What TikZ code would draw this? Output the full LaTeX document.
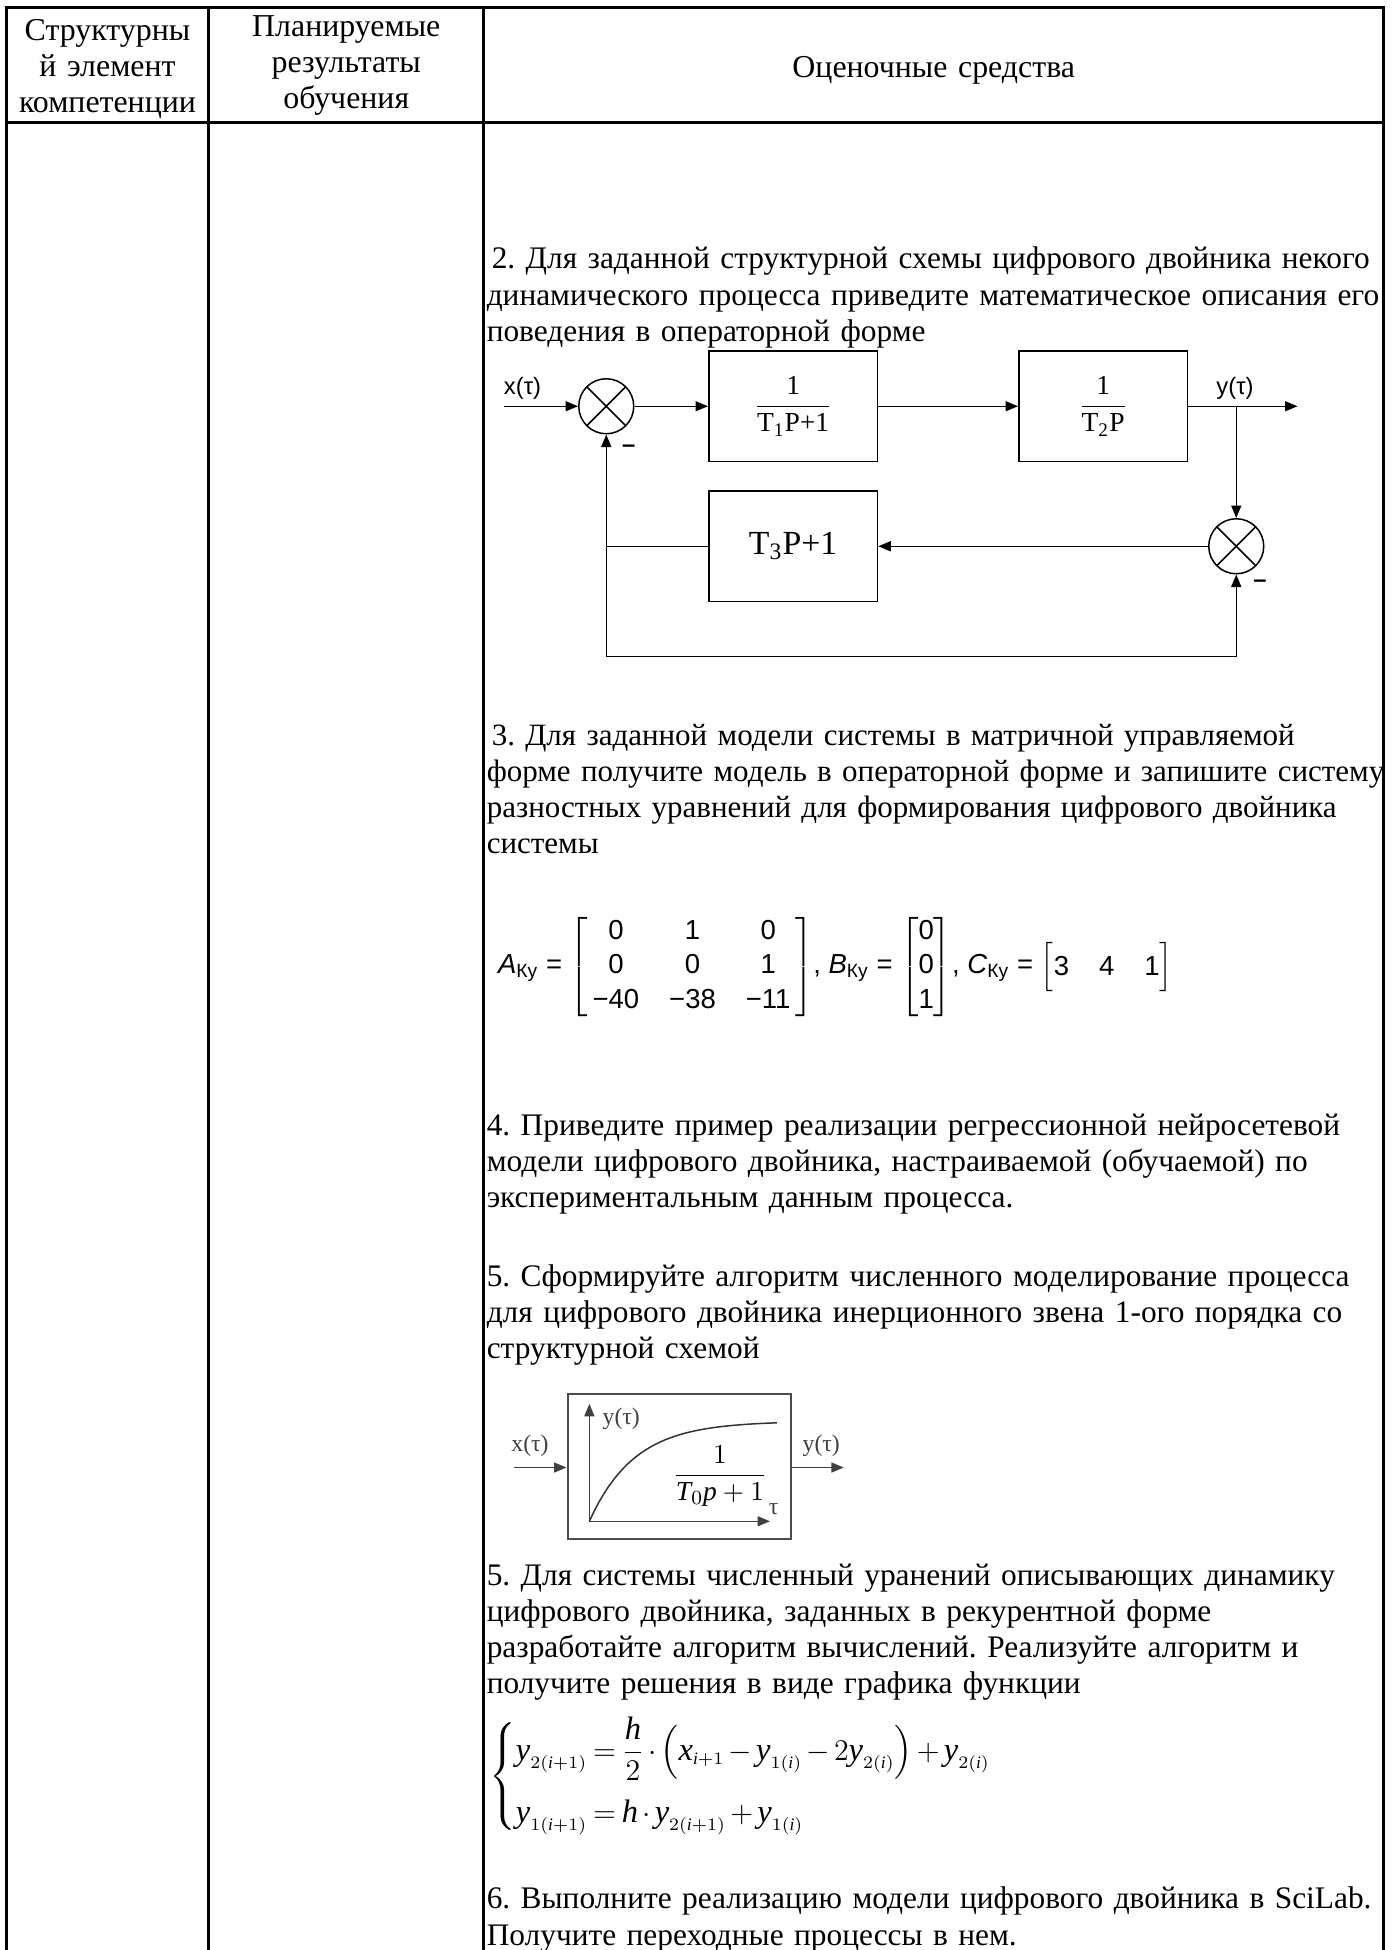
\documentclass[tikz,border=0pt]{standalone}
\usepackage{amsmath}
\usepackage{fontspec}
\setmainfont{Liberation Serif}
\setsansfont{Liberation Sans}
\usetikzlibrary{arrows.meta}
\DeclareMathSizes{13}{13}{7}{5.5}
\frenchspacing

\begin{document}
\begin{tikzpicture}[x=0.5pt,y=-0.5pt,
        tabline/.style={line width=1.2pt},
        hdr/.style={anchor=base,inner sep=0pt,text width=100pt,align=center,font=\fontsize{12.75}{14.5}\selectfont},
        txt/.style={anchor=base west,inner sep=0pt,text width=450pt,align=left,font=\fontsize{12.55}{14.5}\selectfont},
        blk/.style={draw,line width=0.6pt,minimum width=67.5pt,minimum height=44.25pt,inner sep=0pt},
        sum/.style={circle,draw,line width=0.6pt,minimum size=22pt,inner sep=0pt,
            path picture={\draw[line width=0.6pt] (path picture bounding box.north west) -- (path picture bounding box.south east)
                (path picture bounding box.south west) -- (path picture bounding box.north east);}},
        sig/.style={-{Triangle[length=5pt,width=4pt]},line width=0.6pt},
        lbl/.style={inner sep=0pt,font=\sffamily\fontsize{9.5}{11}\selectfont},
        sml/.style={inner sep=0pt,text=black!75,font=\fontsize{9.5}{11}\selectfont}]

    \useasboundingbox (0,0) rectangle (1113,1560);

    % table
    \draw[tabline] (5,1560) -- (5,6) -- (1106.5,6) -- (1106.5,1560);
    \draw[tabline] (5,98) -- (1106.5,98);
    \draw[tabline] (167,6) -- (167,1560);
    \draw[tabline] (387,6) -- (387,1560);

    \node[hdr] (h1) at (86,32) {Структурны\\й элемент\\компетенции};
    \node[hdr] (h2) at (277,29) {Планируемые\\результаты\\обучения};
    \node[hdr,text width=200pt] (h3) at (747,62) {Оценочные средства};

    % task 2
    \node[txt] (q2) at (389,215) {\hspace*{2pt}2. Для заданной структурной схемы цифрового двойника некого\\
        динамического процесса приведите математическое описания его\\
        поведения в операторной форме};

    \node[sum] (s1) at (485,325) {};
    \node[blk] (b1) at (634.5,325) {\fontsize{11}{13}\selectfont$\dfrac{\text{1}}{\text{T}_{\text{1}}\text{P+1}}$};
    \node[blk] (b2) at (882.5,325) {\fontsize{11}{13}\selectfont$\dfrac{\text{1}}{\text{T}_{\text{2}}\text{P}}$};
    \node[blk] (b3) at (634.5,437) {\fontsize{13.5}{15}\selectfont T$_{\text{3}}$P+1};
    \node[sum] (s2) at (989,437) {};

    \coordinate (in1) at (403,325);
    \coordinate (out1) at (1038,325);
    \coordinate (br) at (989,325);
    \coordinate (lc) at (485,437);
    \coordinate (bl) at (485,525);
    \coordinate (bb) at (989,525);

    \node[lbl] (xl) at (418,311) {x(τ)};
    \node[lbl] (yl) at (988,311) {y(τ)};
    \node[lbl] (m1) at (503,359) {\textbf{–}};
    \node[lbl] (m2) at (1008,467) {\textbf{–}};

    \draw[sig] (in1) -- (s1);
    \draw[sig] (s1) -- (b1);
    \draw[sig] (b1) -- (b2);
    \draw[sig] (b2) -- (out1);
    \draw[sig] (br) -- (s2);
    \draw[sig] (s2) -- (b3);
    \draw[line width=0.6pt] (b3) -- (lc);
    \draw[sig] (bl) -- (s1);
    \draw[sig] (bl) -- (bb) -- (s2);

    % task 3
    \node[txt,font=\fontsize{12.4}{14.5}\selectfont] (q3) at (389,596) {\hspace*{2pt}3. Для заданной модели системы в матричной управляемой\\
        форме получите модель в операторной форме и запишите систему\\
        разностных уравнений для формирования цифрового двойника\\
        системы};

    \node[anchor=base west,inner sep=0pt,font=\sffamily\fontsize{11}{13.75}\selectfont] (mx) at (398,779)
        {\textit{A}\textsubscript{Ку} = $\left[\begin{tabular}{@{\,}ccc@{\,}}0&1&0\\0&0&1\\−40&−38&−11\end{tabular}\right]$,
        \textit{B}\textsubscript{Ку} = $\left[\begin{tabular}{@{}c@{}}0\\0\\1\end{tabular}\right]$,
        \textit{C}\textsubscript{Ку} = $\left[\begin{tabular}{@{}ccc@{}}\rule[-6pt]{0pt}{19pt}3&4&1\end{tabular}\right]$};

    % task 4
    \node[txt] (q4) at (389,908) {\makebox[360.5pt][s]{4. Приведите пример реализации регрессионной нейросетевой}\\
        \makebox[360.5pt][s]{модели цифрового двойника, настраиваемой (обучаемой) по}\\
        экспериментальным данным процесса.};

    % task 5
    \node[txt] (q5) at (389,1029) {5. Сформируйте алгоритм численного моделирование процесса\\
        для цифрового двойника инерционного звена 1-ого порядка со\\
        структурной схемой};

    \node[draw=black!70,line width=0.8pt,minimum width=89.5pt,minimum height=58pt,inner sep=0pt] (b0) at (543.5,1173) {};
    \coordinate (in0) at (411,1174);
    \coordinate (out0) at (675,1174);
    \coordinate (o0) at (471.5,1217);
    \coordinate (ya) at (471.5,1123);
    \coordinate (xa) at (616,1217);
    \draw[sig,black!75] (in0) -- (in0 -| b0.west);
    \draw[sig,black!75] (out0 -| b0.east) -- (out0);
    \draw[sig,black!75] (o0) -- (ya);
    \draw[sig,black!75] (o0) -- (xa);
    \draw[black!80,line width=0.6pt] plot[domain=0:150,samples=40] ({471.5+\x},{1217-80*(1-exp(-\x/36))});

    \node[sml] (xl0) at (424,1157) {x(τ)};
    \node[sml] (yl0) at (657,1157) {y(τ)};
    \node[sml] (yi0) at (497,1135) {y(τ)};
    \node[sml] (t0) at (619,1207) {τ};
    \node[inner sep=0pt] (f0) at (576,1181) {\fontsize{11}{13}\selectfont$\dfrac{1}{\textit{T}_{0}\textit{p}+1}$};

    % task 5 (2)
    \node[txt] (q5b) at (389,1268) {5. Для системы численный уранений описывающих динамику\\
        цифрового двойника, заданных в рекурентной форме\\
        разработайте алгоритм вычислений. Реализуйте алгоритм и\\
        получите решения в виде графика функции};

    \node[anchor=west,inner sep=0pt] (eq) at (391,1421) {\fontsize{13}{15}\selectfont
        \medmuskip=2.5mu \thickmuskip=3.5mu
        $\left\{\begin{array}{@{}l@{}}
        \textit{y}_{2(\textit{i}+1)} = \dfrac{\textit{h}}{2}\cdot\left(\textit{x}_{\textit{i}+1} - \textit{y}_{1(\textit{i})} - 2\textit{y}_{2(\textit{i})}\right) + \textit{y}_{2(\textit{i})}\\[10pt]
        \textit{y}_{1(\textit{i}+1)} = \textit{h}\cdot\textit{y}_{2(\textit{i}+1)} + \textit{y}_{1(\textit{i})}
        \end{array}\right.$};

    % task 6
    \node[txt] (q6) at (389,1527) {6. Выполните реализацию модели цифрового двойника в SciLab.\\
        Получите переходные процессы в нем.};

\end{tikzpicture}
\end{document}
